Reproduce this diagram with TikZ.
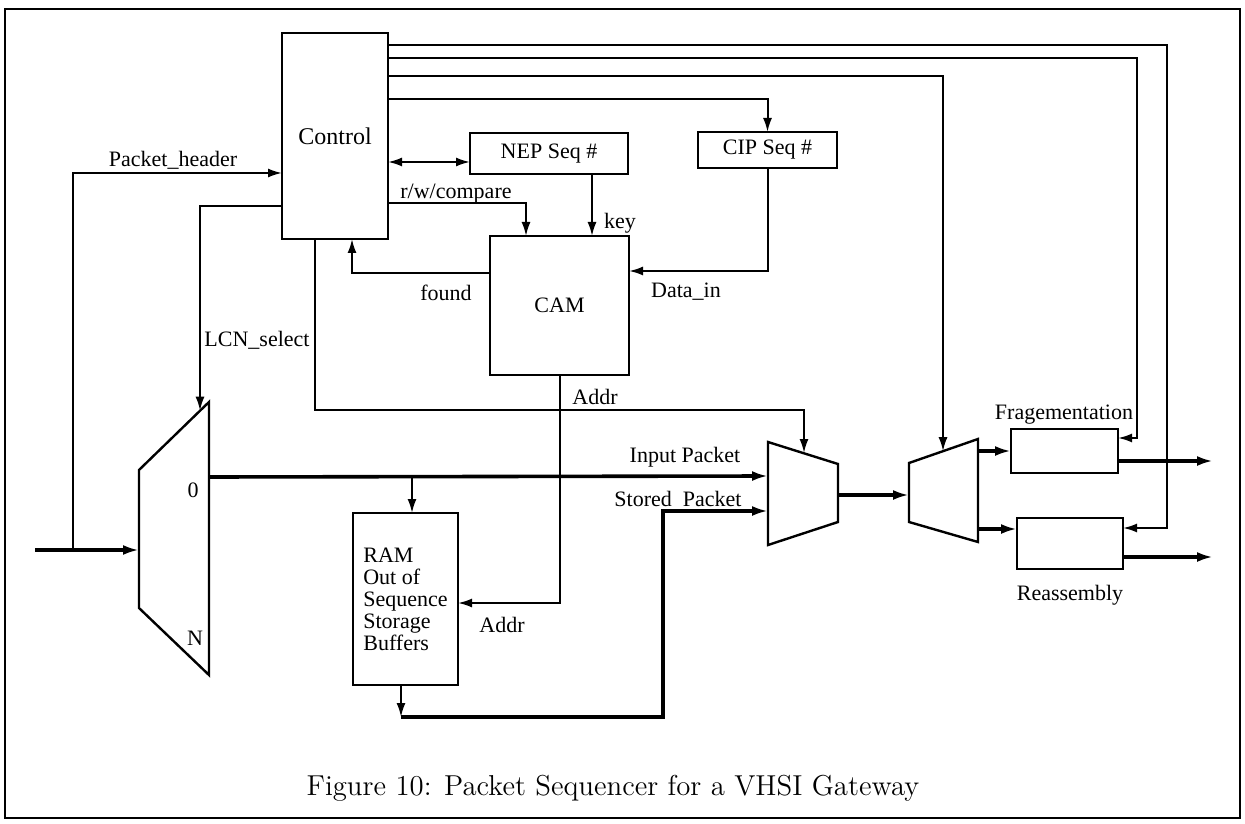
\documentclass[tikz,border=0pt]{standalone}
\usepackage{fontspec}
\newfontfamily\diafont{Liberation Serif}
\usetikzlibrary{arrows.meta, calc}

\tikzset{
  blk/.style={draw, line width=1.2pt, inner sep=0pt, outer sep=0pt,
    font=\diafont\fontsize{11}{11}\selectfont},
  lbl/.style={font=\diafont\fontsize{11}{11}\selectfont, inner sep=0pt},
  wire/.style={line width=1pt, -{Latex[length=7pt,width=4.5pt]}},
  bus/.style={line width=1.8pt, -{Latex[length=8pt,width=5pt]}},
  muxline/.style={line width=1.2pt, line join=miter},
}

\begin{document}
\begin{tikzpicture}[x=0.5pt,y=-0.5pt]
  \useasboundingbox (0,0) rectangle (1245,823);

     % -------------------------
     % Frame and caption
     % -------------------------
      \draw[line width=1.2pt] (5,9) rectangle (1240,818);
      \node[font=\fontsize{14.4}{17}\selectfont] (cap) at (613,788)
        {Figure 10: Packet Sequencer for a VHSI Gateway};

     % -------------------------
     % Blocks
     % -------------------------
      \node[blk, minimum width=53pt, minimum height=103pt] (ctrl) at (335,136)
        {\fontsize{12}{12}\selectfont Control};
      \node[blk, minimum width=79pt, minimum height=20.5pt] (nep) at (549,153.5) {NEP Seq \#};
      \node[blk, minimum width=69.5pt, minimum height=18pt] (cip) at (767.5,150) {CIP Seq \#};
      \node[blk, minimum width=69.5pt, minimum height=69.5pt] (cam) at (559.5,305.5) {CAM};
      \node[blk, minimum width=52.5pt, minimum height=86pt, align=left] (ram) at (405.5,599)
        {RAM\\Out of\\Sequence\\Storage\\Buffers};
      \node[blk, minimum width=53.5pt, minimum height=22pt] (frag) at (1064.5,451) {};
      \node[blk, minimum width=53pt, minimum height=25.5pt] (reas) at (1070,543.5) {};

      % Multiplexers
      \draw[muxline] (139,470) -- (209,402) -- (209,675) -- (139,608) -- cycle;
      \draw[muxline] (768,442) -- (838,464) -- (838,522) -- (768,545) -- cycle;
      \draw[muxline] (909,463) -- (978,439) -- (978,542) -- (909,522) -- cycle;

      % Ports
      \coordinate (src) at (35,550);
      \coordinate (tap) at (73,550);
      \coordinate (m0in) at (139,550);
      \coordinate (m0out) at (209,477);
      \coordinate (m0sel) at (200,410.7);
      \coordinate (m1in) at (768,476);
      \coordinate (m1st) at (768,511);
      \coordinate (m1out) at (838,495);
      \coordinate (m1sel) at (804,453);
      \coordinate (m2in) at (909,495);
      \coordinate (m2a) at (978,451);
      \coordinate (m2b) at (978,529);
      \coordinate (m2sel) at (943,451.2);

      % Control side points
      \coordinate (ctrlPH) at (282,173);
      \coordinate (ctrlLCN) at (282,206);
      \coordinate (ctrlB) at (315,239);
      \coordinate (ctrlFd) at (352,239);
      \coordinate (ctrlNEP) at (388,162);
      \coordinate (ctrlRW) at (388,203);
      \coordinate (ctrlW1) at (388,45);
      \coordinate (ctrlW2) at (388,58);
      \coordinate (ctrlW3) at (388,76);
      \coordinate (ctrlW4) at (388,99);

      % CAM side points
      \coordinate (nepW) at (470,162);
      \coordinate (nepK) at (592,174);
      \coordinate (camK) at (592,236);
      \coordinate (camRW) at (526,236);
      \coordinate (camF) at (490,273);
      \coordinate (camD) at (629,271);
      \coordinate (camA) at (560,375);
      \coordinate (ramA) at (458,603);
      \coordinate (ramIn) at (412,513);
      \coordinate (busRam) at (412,477);
      \coordinate (ramOut) at (401,685);
      \coordinate (ramCorner) at (401,717);
      \coordinate (stUp) at (663,717);
      \coordinate (fragC) at (1118,438);
      \coordinate (reasC) at (1123,528);
      \coordinate (fragOut) at (1118,461);
      \coordinate (reasOut) at (1123,557);
      \coordinate (fragEnd) at (1213,461);
      \coordinate (reasEnd) at (1213,557);

     % -------------------------
     % Control lines
     % -------------------------
      \draw[wire] (tap) |- (ctrlPH);
      \draw[wire] (ctrlLCN) -| (m0sel);
      \draw[wire] (ctrlB) -- ++(0,171) -| (m1sel);
      \draw[wire] (camF) -| (ctrlFd);
      \draw[line width=1pt, {Latex[length=7pt,width=4.5pt]}-{Latex[length=7pt,width=4.5pt]}] (ctrlNEP) -- (nepW);
      \draw[wire] (ctrlRW) -| (camRW);
      \draw[wire] (nepK) -- (camK);
      \draw[wire] (cip.south) |- (camD);
      \draw[wire] (camA) |- (ramA);

      % Lines leaving the top of Control
      \draw[wire] (ctrlW4) -| (cip.north);
      \draw[wire] (ctrlW3) -| (m2sel);
      \draw[wire] (ctrlW2) -- ++(749,0) |- (fragC);
      \draw[wire] (ctrlW1) -- ++(779,0) |- (reasC);

     % -------------------------
     % Packet path
     % -------------------------
      \draw[bus] (src) -- (m0in);
      \draw[bus] (m0out) -- (m1in);
      \draw[wire] (busRam) -- (ramIn);
      \draw[wire] (ramOut) -- (ramCorner);
      \draw[bus] (ramCorner) -- (stUp) |- (m1st);
      \draw[bus] (m1out) -- (m2in);
      \draw[bus] (m2a) -- (frag.west |- m2a);
      \draw[bus] (m2b) -- (reas.west |- m2b);
      \draw[bus] (fragOut) -- (fragEnd);
      \draw[bus] (reasOut) -- (reasEnd);

     % -------------------------
     % Labels
     % -------------------------
      \node[lbl] (lph) at (173,160) {Packet\_header};
      \node[lbl] (llcn) at (257,340) {LCN\_select};
      \node[lbl] (lrw) at (456,194) {r/w/compare};
      \node[lbl] (lkey) at (620,223) {key};
      \node[lbl] (lfound) at (446,293) {found};
      \node[lbl] (ldata) at (686,292) {Data\_in};
      \node[lbl] (laddr) at (595,397) {Addr};
      \node[lbl] (linp) at (685,457) {Input Packet};
      \node[lbl] (lsto) at (678,499) {Stored\ \ Packet};
      \node[lbl] (lramaddr) at (502,625) {Addr};
      \node[lbl] (lfrag) at (1064,415) {Fragementation};
      \node[lbl] (lreas) at (1070,595) {Reassembly};
      \node[lbl] (lzero) at (193,490) {0};
      \node[lbl] (lN) at (195,638) {N};
\end{tikzpicture}
\end{document}
